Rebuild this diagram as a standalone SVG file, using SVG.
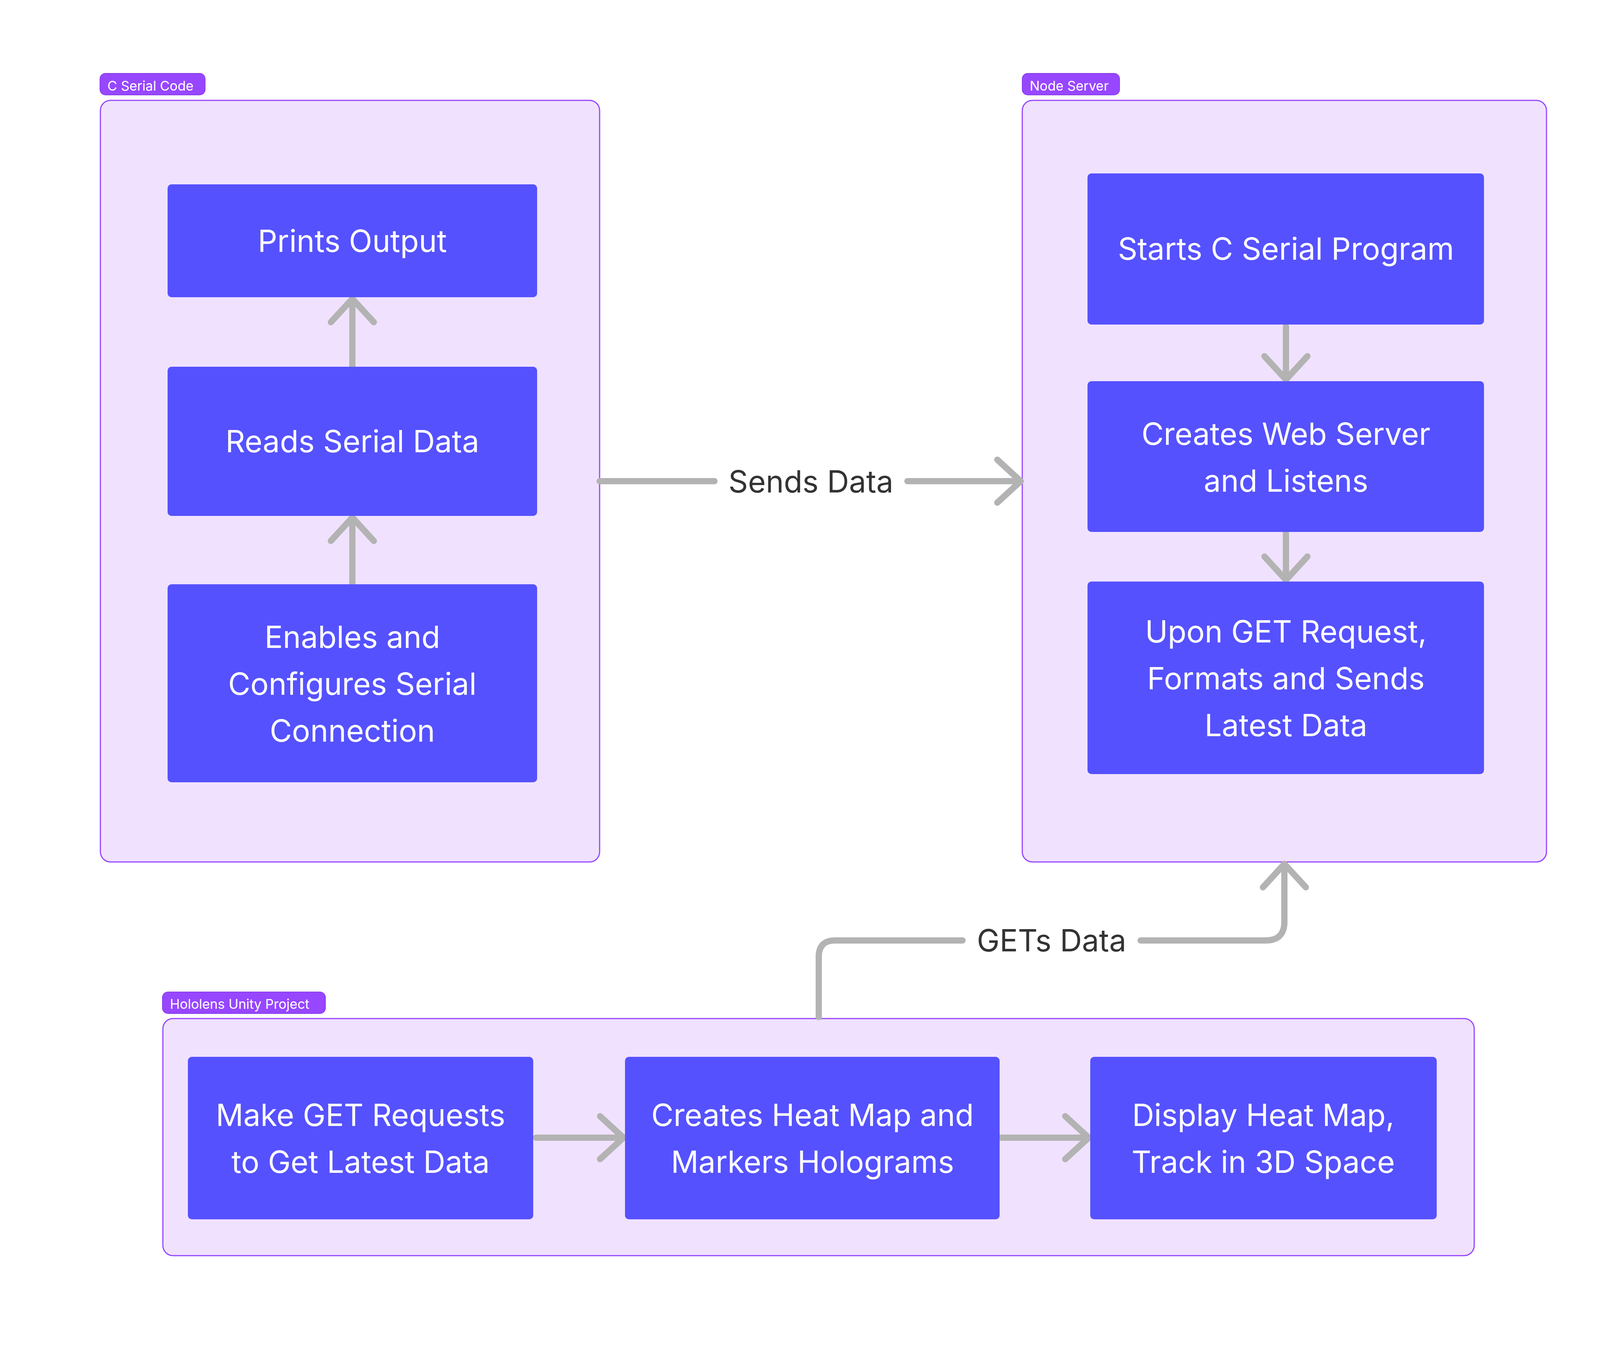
<svg xmlns="http://www.w3.org/2000/svg" width="4216" height="3472" viewBox="0 0 4216 3472">
<style>
.sec{fill:#F0E2FE;stroke:#9747FF;stroke-width:3}
.badge{fill:#9747FF;stroke:#8A3CEB;stroke-width:2}
.btxt{font-family:Inter,"Liberation Sans",sans-serif;font-size:34px;fill:#FFFFFF}
.node{fill:#5551FF}
.ntxt{font-family:Inter,"Liberation Sans",sans-serif;font-size:78px;fill:#FFFFFF;text-anchor:middle}
.conn{fill:none;stroke:#B3B3B3;stroke-width:16;stroke-linecap:round;stroke-linejoin:round}
.ltxt{font-family:Inter,"Liberation Sans",sans-serif;font-size:78px;fill:#333333;text-anchor:middle}
</style>
<defs>
<marker id="chev" markerUnits="userSpaceOnUse" markerWidth="200" markerHeight="200" viewBox="-100 -100 200 200" refX="0" refY="0" orient="auto" overflow="visible">
<path d="M-60,-55 L0,0 L-60,55" fill="none" stroke="#B3B3B3" stroke-width="16" stroke-linecap="round" stroke-linejoin="round"/>
</marker>
</defs>
<rect width="4216" height="3472" fill="#FFFFFF"/>

<g id="section-c-serial">
<rect class="sec" x="257" y="257" width="1278" height="1950" rx="26"/>
<rect class="badge" x="256" y="188" width="269" height="55" rx="14"/>
<text class="btxt" x="275" y="232">C Serial Code</text>
</g>
<g id="section-node-server">
<rect class="sec" x="2617" y="257" width="1342" height="1950" rx="26"/>
<rect class="badge" x="2617" y="188" width="249" height="55" rx="14"/>
<text class="btxt" x="2636" y="232">Node Server</text>
</g>
<g id="section-hololens">
<rect class="sec" x="417" y="2608" width="3357" height="607" rx="26"/>
<rect class="badge" x="416" y="2540" width="417" height="55" rx="14"/>
<text class="btxt" x="435" y="2583">Hololens Unity Project</text>
</g>

<g id="connectors">
<path class="conn" d="M902,939 V765" marker-end="url(#chev)"/>
<path class="conn" d="M902,1496 V1325" marker-end="url(#chev)"/>
<path class="conn" d="M3292,836 V972" marker-end="url(#chev)"/>
<path class="conn" d="M3292,1366 V1485" marker-end="url(#chev)"/>
<path class="conn" d="M1535,1232 H1829"/>
<path class="conn" d="M2323,1232 H2613" marker-end="url(#chev)"/>
<path class="conn" d="M2096,2604 V2450 Q2096,2408 2138,2408 H2464"/>
<path class="conn" d="M2920,2408 H3240 Q3288,2408 3288,2360 V2212" marker-end="url(#chev)"/>
<path class="conn" d="M1372,2913 H1596" marker-end="url(#chev)"/>
<path class="conn" d="M2563,2913 H2787" marker-end="url(#chev)"/>
<text class="ltxt" x="2076" y="1261">Sends Data</text>
<text class="ltxt" x="2692" y="2436">GETs Data</text>
</g>

<g id="node-prints-output">
<rect class="node" x="429" y="472" width="946" height="289" rx="10"/>
<text class="ntxt" x="902" y="645">Prints Output</text>
</g>
<g id="node-reads-serial">
<rect class="node" x="429" y="939" width="946" height="382" rx="10"/>
<text class="ntxt" x="902" y="1158">Reads Serial Data</text>
</g>
<g id="node-enables">
<rect class="node" x="429" y="1496" width="946" height="507" rx="10"/>
<text class="ntxt" x="902" y="1659">Enables and</text>
<text class="ntxt" x="902" y="1779">Configures Serial</text>
<text class="ntxt" x="902" y="1899">Connection</text>
</g>
<g id="node-starts">
<rect class="node" x="2784" y="444" width="1015" height="387" rx="10"/>
<text class="ntxt" x="3292" y="665">Starts C Serial Program</text>
</g>
<g id="node-creates-web">
<rect class="node" x="2784" y="976" width="1015" height="386" rx="10"/>
<text class="ntxt" x="3292" y="1139">Creates Web Server</text>
<text class="ntxt" x="3292" y="1259">and Listens</text>
</g>
<g id="node-upon-get">
<rect class="node" x="2784" y="1489" width="1015" height="493" rx="10"/>
<text class="ntxt" x="3292" y="1645">Upon GET Request,</text>
<text class="ntxt" x="3292" y="1765">Formats and Sends</text>
<text class="ntxt" x="3292" y="1885">Latest Data</text>
</g>
<g id="node-make-get">
<rect class="node" x="481" y="2706" width="884" height="416" rx="10"/>
<text class="ntxt" x="923" y="2883">Make GET Requests</text>
<text class="ntxt" x="923" y="3003">to Get Latest Data</text>
</g>
<g id="node-heat-map">
<rect class="node" x="1600" y="2706" width="959" height="416" rx="10"/>
<text class="ntxt" x="2080" y="2883">Creates Heat Map and</text>
<text class="ntxt" x="2080" y="3003">Markers Holograms</text>
</g>
<g id="node-display">
<rect class="node" x="2791" y="2706" width="887" height="416" rx="10"/>
<text class="ntxt" x="3234" y="2883">Display Heat Map,</text>
<text class="ntxt" x="3234" y="3003">Track in 3D Space</text>
</g>
</svg>
